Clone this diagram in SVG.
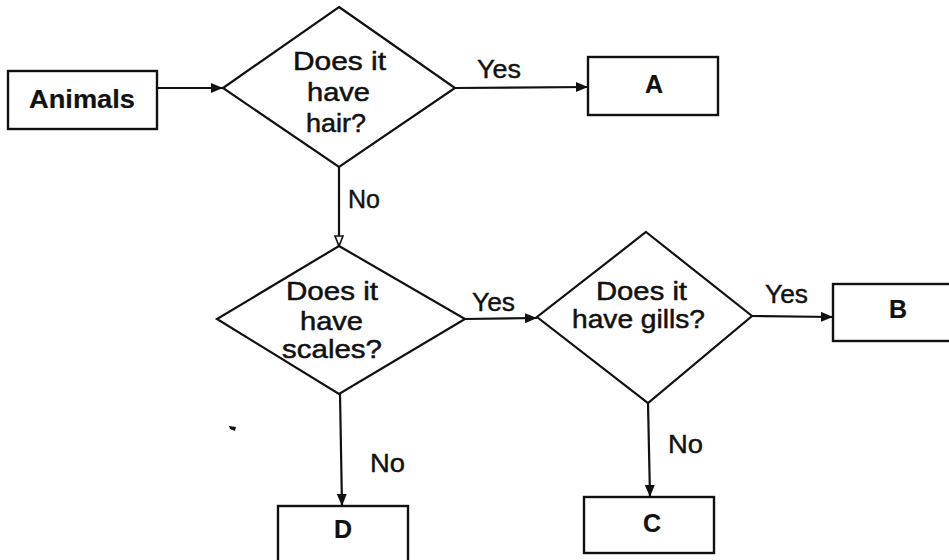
<svg xmlns="http://www.w3.org/2000/svg" width="949" height="560" viewBox="0 0 949 560">
  <style>
    .box { fill: #fff; stroke: #111; stroke-width: 2.4; }
    .dia { fill: #fff; stroke: #111; stroke-width: 2.2; }
    .edge { fill: none; stroke: #111; stroke-width: 2.2; }
    .t { font-family: "Liberation Sans", Arial, sans-serif; font-size: 25px; fill: #111; stroke: #111; stroke-width: 0.5; }
    .b { font-weight: bold; stroke-width: 0.2; }
    .lbl { font-family: "Liberation Sans", Arial, sans-serif; font-size: 25px; fill: #111; stroke: #111; stroke-width: 0.4; }
  </style>
  <defs>
    <marker id="arrow" markerUnits="userSpaceOnUse" markerWidth="14" markerHeight="12" refX="12" refY="5" orient="auto">
      <path d="M0,0 L12,5 L0,10 Z" fill="#111"/>
    </marker>
    <marker id="arrowOpen" markerUnits="userSpaceOnUse" markerWidth="14" markerHeight="12" refX="11" refY="5" orient="auto">
      <path d="M1,1 L11,5 L1,9 Z" fill="#fff" stroke="#111" stroke-width="1.6"/>
    </marker>
  </defs>
  <rect width="949" height="560" fill="#fff"/>

  <!-- connectors and their Yes/No labels -->
  <g id="connectors">
    <line class="edge" x1="157" y1="88" x2="223" y2="88" marker-end="url(#arrow)"/>
    <line class="edge" x1="455" y1="88" x2="588" y2="87" marker-end="url(#arrow)"/>
    <line class="edge" x1="339" y1="167" x2="339" y2="246" marker-end="url(#arrowOpen)"/>
    <line class="edge" x1="465" y1="319" x2="537" y2="318" marker-end="url(#arrow)"/>
    <line class="edge" x1="340" y1="394" x2="342" y2="506" marker-end="url(#arrow)"/>
    <line class="edge" x1="752" y1="316" x2="833" y2="317" marker-end="url(#arrow)"/>
    <line class="edge" x1="648" y1="403" x2="650" y2="497" marker-end="url(#arrow)"/>
    <text class="lbl" x="477" y="78" textLength="44" lengthAdjust="spacingAndGlyphs">Yes</text>
    <text class="lbl" x="348" y="208" textLength="32" lengthAdjust="spacingAndGlyphs">No</text>
    <text class="lbl" x="472" y="311" textLength="43" lengthAdjust="spacingAndGlyphs">Yes</text>
    <text class="lbl" x="370" y="472" textLength="35" lengthAdjust="spacingAndGlyphs">No</text>
    <text class="lbl" x="765" y="303" textLength="43" lengthAdjust="spacingAndGlyphs">Yes</text>
    <text class="lbl" x="668" y="453" textLength="35" lengthAdjust="spacingAndGlyphs">No</text>
  </g>

  <g id="animals">
    <rect class="box" x="8" y="71" width="149" height="58"/>
    <text class="t b" x="29" y="108" textLength="106" lengthAdjust="spacingAndGlyphs">Animals</text>
  </g>

  <g id="q-hair">
    <polygon class="dia" points="339,7 455,88 339,167 223,88"/>
    <text class="t" x="293" y="70" textLength="93" lengthAdjust="spacingAndGlyphs">Does it</text>
    <text class="t" x="307" y="101" textLength="63" lengthAdjust="spacingAndGlyphs">have</text>
    <text class="t" x="306" y="132" textLength="60" lengthAdjust="spacingAndGlyphs">hair?</text>
  </g>

  <g id="node-a">
    <rect class="box" x="588" y="57" width="130" height="58"/>
    <text class="t b" x="654" y="93" text-anchor="middle">A</text>
  </g>

  <g id="q-scales">
    <polygon class="dia" points="339,246 465,319 339,394 217,319"/>
    <text class="t" x="286" y="300" textLength="92" lengthAdjust="spacingAndGlyphs">Does it</text>
    <text class="t" x="300" y="330" textLength="63" lengthAdjust="spacingAndGlyphs">have</text>
    <text class="t" x="282" y="358" textLength="100" lengthAdjust="spacingAndGlyphs">scales?</text>
  </g>

  <g id="q-gills">
    <polygon class="dia" points="646,232 752,316 648,403 537,317"/>
    <text class="t" x="596" y="300" textLength="91" lengthAdjust="spacingAndGlyphs">Does it</text>
    <text class="t" x="572" y="328" textLength="133" lengthAdjust="spacingAndGlyphs">have gills?</text>
  </g>

  <g id="node-b">
    <rect class="box" x="833" y="284" width="130" height="57"/>
    <text class="t b" x="898" y="318" text-anchor="middle">B</text>
  </g>

  <g id="node-c">
    <rect class="box" x="584" y="497" width="130" height="56"/>
    <text class="t b" x="652" y="532" text-anchor="middle">C</text>
  </g>

  <g id="node-d">
    <rect class="box" x="278" y="506" width="130" height="70"/>
    <text class="t b" x="343" y="538" text-anchor="middle">D</text>
  </g>

  <!-- stray ink mark -->
  <path d="M229,426 L236,427 L235,431 L230,429 Z" fill="#111"/>
</svg>
